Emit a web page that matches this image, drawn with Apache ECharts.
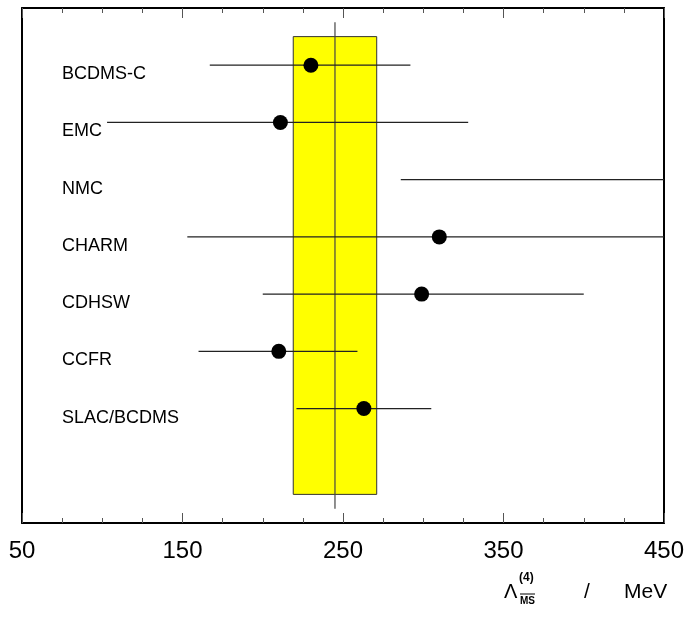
<!DOCTYPE html>
<html>
<head>
<meta charset="utf-8">
<script src="https://cdn.jsdelivr.net/npm/echarts@6/dist/echarts.min.js"></script>
<style>
html,body{margin:0;padding:0;background:#fff;}
#chart{width:689px;height:618px;}
</style>
</head>
<body>
<div id="chart"></div>
<script>
// ---- data ----
const rowNames = ['BCDMS-C', 'EMC', 'NMC', 'CHARM', 'CDHSW', 'CCFR', 'SLAC/BCDMS'];
const centralValues = [230, 211, 470, 310, 299, 210, 263];
const lowerValues = [167, 103, 286, 153, 200, 160, 221];
const upperValues = [292, 328, 640, 480, 400, 259, 305];
const bandRange = [219, 271];
const bandCenter = 245;
const xTickLabels = [50, 150, 250, 350, 450];

const FONT = "'Liberation Sans', Arial, Helvetica, sans-serif";
const rows = rowNames.map((n, i) => i + 1);

const chart = echarts.init(document.getElementById('chart'), null, {renderer: 'canvas'});

function xAxisBase() {
  return {
    type: 'value',
    min: xTickLabels[0],
    max: xTickLabels[xTickLabels.length - 1],
    interval: 100,
    splitLine: {show: false},
    axisLine: {show: true, onZero: false, lineStyle: {color: '#000', width: 2}},
    axisTick: {show: true, inside: true, length: 10, lineStyle: {color: '#555', width: 1}},
    minorTick: {show: true, splitNumber: 4, length: 5, lineStyle: {color: '#555', width: 1}},
    minorSplitLine: {show: false}
  };
}

const option = {
  animation: false,
  backgroundColor: '#fff',
  grid: {left: 22, right: 25, top: 8, bottom: 95, containLabel: false},
  xAxis: [
    Object.assign(xAxisBase(), {
      position: 'bottom',
      axisLabel: {show: true, fontSize: 24, color: '#000', fontFamily: FONT, margin: 16,
        formatter: v => xTickLabels.includes(v) ? String(v) : ''}
    }),
    Object.assign(xAxisBase(), {
      position: 'top',
      axisLabel: {show: false}
    })
  ],
  yAxis: [
    {
      type: 'value', inverse: true, min: 0, max: 9, interval: 1,
      position: 'left',
      splitLine: {show: false},
      axisTick: {show: false},
      axisLine: {show: true, onZero: false, lineStyle: {color: '#000', width: 2}},
      axisLabel: {
        show: true, inside: true, margin: 40, align: 'left', verticalAlign: 'top',
        fontSize: 18, color: '#000', fontFamily: FONT, lineHeight: 18,
        formatter: v => rowNames[v - 1] || ''
      }
    },
    {
      type: 'value', inverse: true, min: 0, max: 9, interval: 1,
      position: 'right',
      splitLine: {show: false},
      axisTick: {show: false},
      axisLabel: {show: false},
      axisLine: {show: true, onZero: false, lineStyle: {color: '#000', width: 2}}
    }
  ],
  series: [
    {
      // world-average band
      type: 'custom',
      z: 1,
      silent: true,
      data: [[bandRange[0], bandRange[1], 0.5, 8.5]],
      encode: {x: [0, 1], y: [2, 3]},
      renderItem: (params, api) => {
        const p1 = api.coord([api.value(0), api.value(2)]);
        const p2 = api.coord([api.value(1), api.value(3)]);
        return {
          type: 'rect',
          shape: {x: p1[0], y: p1[1], width: p2[0] - p1[0], height: p2[1] - p1[1]},
          style: {fill: '#ffff00', stroke: '#333', lineWidth: 1}
        };
      }
    },
    {
      // central line of band
      type: 'custom',
      z: 2,
      silent: true,
      data: [[bandCenter, 0.25, 8.75]],
      encode: {x: 0, y: [1, 2]},
      renderItem: (params, api) => {
        const p1 = api.coord([api.value(0), api.value(1)]);
        const p2 = api.coord([api.value(0), api.value(2)]);
        return {
          type: 'line',
          shape: {x1: p1[0], y1: p1[1], x2: p2[0], y2: p2[1]},
          style: {stroke: '#444', lineWidth: 1.2}
        };
      }
    },
    {
      // error bars
      type: 'custom',
      z: 3,
      silent: true,
      data: rows.map((r, i) => [lowerValues[i], upperValues[i], r]),
      encode: {x: [0, 1], y: 2},
      renderItem: (params, api) => {
        const cs = params.coordSys;
        const p1 = api.coord([api.value(0), api.value(2)]);
        const p2 = api.coord([api.value(1), api.value(2)]);
        const clamp = x => Math.max(cs.x, Math.min(cs.x + cs.width, x));
        return {
          type: 'line',
          shape: {x1: clamp(p1[0]), y1: p1[1], x2: clamp(p2[0]), y2: p2[1]},
          style: {stroke: '#222', lineWidth: 1.2}
        };
      }
    },
    {
      type: 'scatter',
      z: 4,
      clip: true,
      symbol: 'circle',
      symbolSize: 15,
      itemStyle: {color: '#000', opacity: 1},
      data: rows.map((r, i) => [centralValues[i], r])
    }
  ],
  graphic: [
    {type: 'text', style: {x: 504, y: 592, text: 'Λ', font: '20px ' + FONT, fill: '#000', textVerticalAlign: 'middle'}},
    {type: 'text', style: {x: 519, y: 578, text: '(4)', font: 'bold 12px ' + FONT, fill: '#000', textVerticalAlign: 'middle'}},
    {type: 'text', style: {x: 520, y: 601, text: 'MS', font: 'bold 10px ' + FONT, fill: '#000', textVerticalAlign: 'middle'}},
    {type: 'line', shape: {x1: 520, y1: 594, x2: 535, y2: 594}, style: {stroke: '#000', lineWidth: 1}},
    {type: 'text', style: {x: 587, y: 592, text: '/', font: '21px ' + FONT, fill: '#000', textAlign: 'center', textVerticalAlign: 'middle'}},
    {type: 'text', style: {x: 624, y: 592, text: 'MeV', font: '21px ' + FONT, fill: '#000', textVerticalAlign: 'middle'}}
  ]
};

chart.setOption(option);
</script>
</body>
</html>
